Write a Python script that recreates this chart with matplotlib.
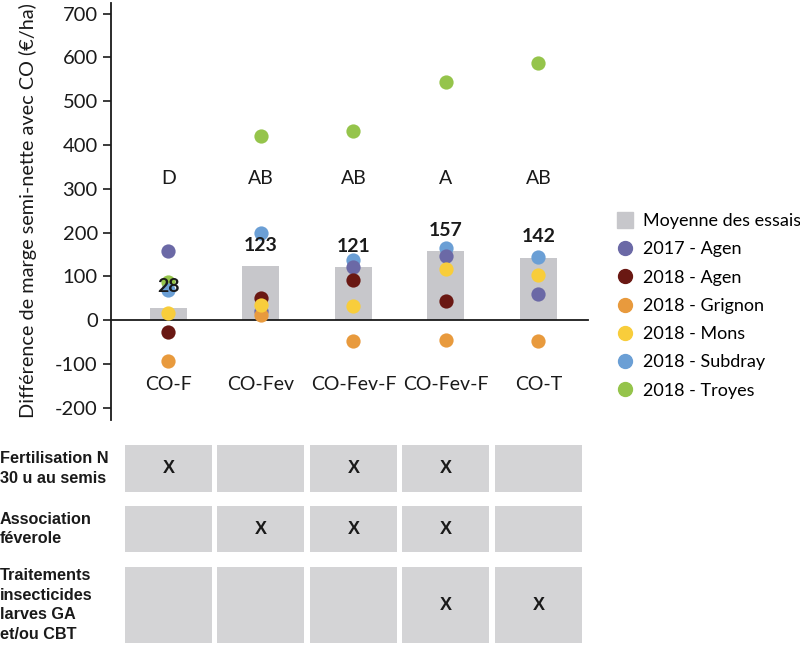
import numpy as np
import matplotlib
matplotlib.use('Agg')
import matplotlib.pyplot as plt
import matplotlib.transforms as mtransforms
from matplotlib.patches import Rectangle
from matplotlib.lines import Line2D

plt.rcParams['font.family'] = ['Lato', 'DejaVu Sans']
plt.rcParams['axes.unicode_minus'] = False

# données
categories = ['CO-F', 'CO-Fev', 'CO-Fev-F', 'CO-Fev-F', 'CO-T']
moyennes = [28, 123, 121, 157, 142]
groupes = ['D', 'AB', 'AB', 'A', 'AB']

agen_2017 = [157, 21, 122, 146, 59]
agen_2018 = [-27, 51, 91, 43, np.nan]
grignon_2018 = [-93, 12, -48, -46, -47]
mons_2018 = [16, 34, 32, 116, 103]
subdray_2018 = [68, 199, 137, 165, 144]
troyes_2018 = [88, 421, 431, 543, 587]

lignes_tableau = ['Fertilisation N\n30 u au semis',
                  'Association\nféverole',
                  'Traitements\ninsecticides\nlarves GA\net/ou CBT']
croix_fertilisation = [1, 0, 1, 1, 0]
croix_feverole = [0, 1, 1, 1, 0]
croix_insecticides = [0, 0, 0, 1, 1]

series = [
    ('2017 - Agen', agen_2017, '#6b69a6', 2.5),
    ('2018 - Agen', agen_2018, '#6a1813', 3),
    ('2018 - Grignon', grignon_2018, '#e89a3d', 3),
    ('2018 - Mons', mons_2018, '#f8cd3b', 5),
    ('2018 - Subdray', subdray_2018, '#6b9fd5', 2),
    ('2018 - Troyes', troyes_2018, '#95c44b', 1),
]
gris_barre = '#c7c7cb'
gris_case = '#d4d4d6'

W, H = 800, 651
fig = plt.figure(figsize=(W / 100, H / 100), dpi=100)
ax = fig.add_axes([111 / W, 1 - 420 / H, 477 / W, 417 / H])

x = np.arange(len(categories))
ax.bar(x, moyennes, width=0.4, color=gris_barre, zorder=0.5)
for nom, vals, couleur, z in series:
    ax.scatter(x, vals, s=105, color=couleur, zorder=z, linewidths=0)

for i in range(len(categories)):
    ax.text(x[i], moyennes[i] + 48, str(moyennes[i]), ha='center', va='center',
            fontsize=14, fontweight='bold', color='#1a1a1a', zorder=10)
    ax.text(x[i], 324, groupes[i], ha='center', va='center', fontsize=14,
            color='#1a1a1a')
    ax.text(x[i], -148, categories[i], ha='center', va='center', fontsize=14,
            color='#1a1a1a')

ax.set_xlim(-0.62, 4.535)
ax.set_ylim(-228, 724)
ax.set_yticks(np.arange(-200, 701, 100))
ax.set_xticks([])
ax.spines['top'].set_visible(False)
ax.spines['right'].set_visible(False)
ax.spines['bottom'].set_position(('data', 0))
ax.spines['left'].set_linewidth(1.3)
ax.spines['bottom'].set_linewidth(1.3)
ax.spines['left'].set_color('#1a1a1a')
ax.spines['bottom'].set_color('#1a1a1a')
ax.tick_params(axis='y', length=6, width=1.2, pad=3.5, labelsize=14.5,
               colors='#1a1a1a')
ax.patch.set_visible(False)

fig.text(28 / W, 1 - 211 / H, 'Différence de marge semi-nette avec CO (€/ha)',
         rotation=90, ha='center', va='center', fontsize=14.3, color='#1a1a1a')

# légende
handles = [Line2D([], [], marker='s', ls='', ms=12, color=gris_barre)]
labels = ['Moyenne des essais']
for nom, vals, couleur, z in series:
    handles.append(Line2D([], [], marker='o', ls='', ms=10, color=couleur))
    labels.append(nom)
fig.legend(handles, labels, loc='upper left', bbox_to_anchor=(616 / W, 1 - 213 / H),
           frameon=False, fontsize=13, handlelength=1.0, handletextpad=0.5,
           labelspacing=0.68, borderpad=0, borderaxespad=0)

# tableau des modalités
tax = fig.add_axes([111 / W, 1 - 643 / H, 477 / W, 198 / H])
tax.set_xlim(-0.62, 4.535)
tax.set_ylim(198, 0)
tax.axis('off')
hauts = [0, 61, 122]
hauteurs = [47, 46, 76]
croix = [croix_fertilisation, croix_feverole, croix_insecticides]
police_tab = dict(family=['Liberation Sans', 'DejaVu Sans'], fontweight='bold',
                  color='#1a1a1a')
trans = mtransforms.blended_transform_factory(fig.transFigure, tax.transData)
for r in range(3):
    for i in range(len(categories)):
        tax.add_patch(Rectangle((x[i] - 0.47, hauts[r]), 0.94, hauteurs[r],
                                color=gris_case, lw=0))
        if croix[r][i]:
            tax.text(x[i], hauts[r] + hauteurs[r] / 2, 'X', ha='center', va='center',
                     fontsize=13, **police_tab)
    fig.text(0.0, hauts[r] + hauteurs[r] / 2, lignes_tableau[r], transform=trans,
             ha='left', va='center', fontsize=11.7, linespacing=1.4, **police_tab)

fig.savefig('out.png', dpi=100)
